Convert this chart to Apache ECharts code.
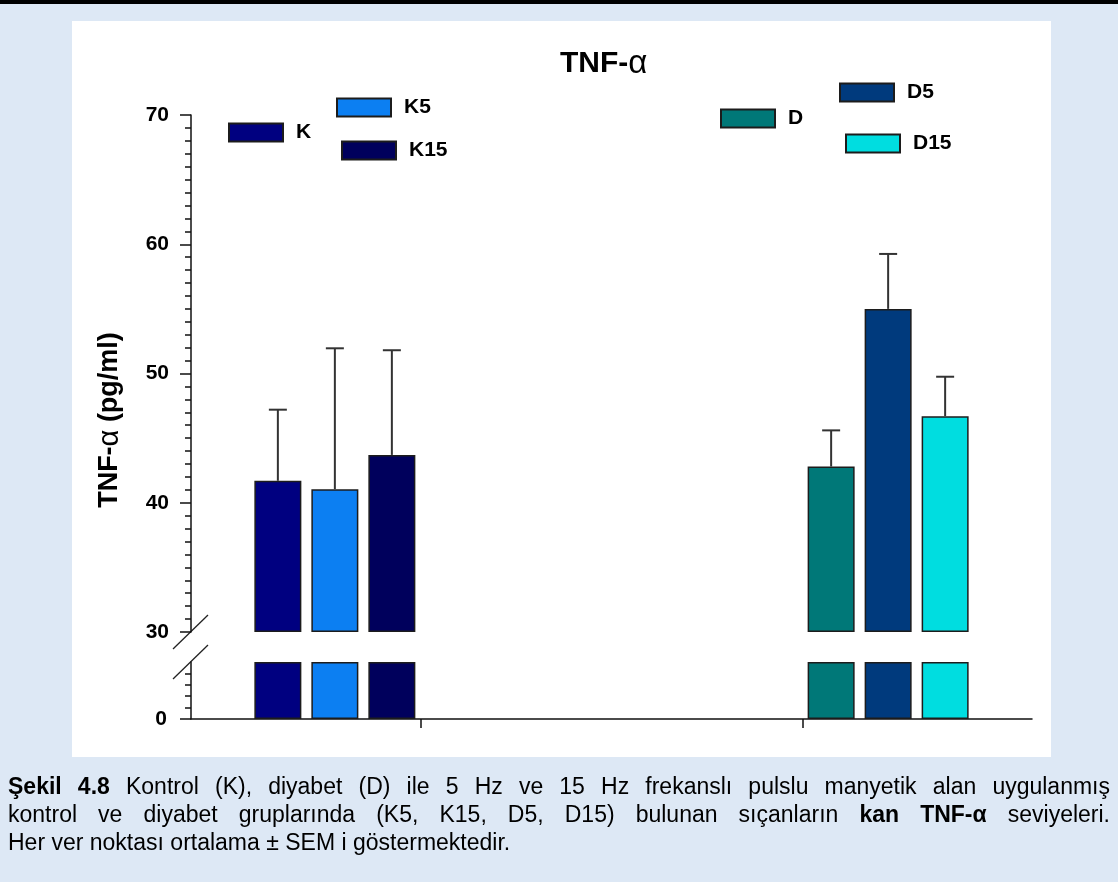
<!DOCTYPE html>
<html>
<head>
<meta charset="utf-8">
<title>TNF-α</title>
<script src="https://cdn.jsdelivr.net/npm/echarts@6/dist/echarts.min.js"></script>
<style>
  body { margin: 0; background: #dde8f5; }
  #topbar { position: absolute; left: 0; top: 0; width: 1118px; height: 4px; background: #000; }
  #panel { position: absolute; left: 72px; top: 21px; width: 979px; height: 736px; background: #fff; }
  #chart { position: absolute; left: 0; top: 0; width: 1118px; height: 882px; }
  #caption { position: absolute; left: 8px; top: 772px; width: 1102px;
    font: 23px Arial, "Liberation Sans", sans-serif; line-height: 28px; color: #000; }
  #caption .j { text-align: justify; text-align-last: justify; }
</style>
</head>
<body>
<div id="topbar"></div>
<div id="panel"></div>
<div id="chart"></div>
<div id="caption">
  <div class="j"><b>Şekil 4.8</b> Kontrol (K), diyabet (D) ile 5 Hz ve 15 Hz frekanslı pulslu manyetik alan uygulanmış</div>
  <div class="j">kontrol ve diyabet gruplarında (K5, K15, D5, D15) bulunan sıçanların <b>kan TNF-α</b> seviyeleri.</div>
  <div>Her ver noktası ortalama ± SEM i göstermektedir.</div>
</div>
<script>
// gruplar ve değerler
const categories = ['K', 'K5', 'K15', 'D', 'D5', 'D15'];
const means = [41.7, 41.05, 43.7, 42.8, 55.0, 46.7];
const sems = [5.5, 10.9, 8.1, 2.8, 4.25, 3.05];
const groupPos = [1, 1, 1, 2, 2, 2]; // K grubu = 1, D grubu = 2
const upperTicks = [30, 40, 50, 60, 70];
const lowerTicks = [0, 5];
const xTicks = [1, 2];
const colors = ['#000080', '#0c7ff2', '#00005c', '#007878', '#003a7d', '#00dde0'];

// yerleşim
const BAR_W = 47, GAP = 10;
const legendPos = [[228, 122], [336, 97], [341, 140], [720, 108], [839, 82], [845, 133]];
const FONT = 'Arial, "Liberation Sans", sans-serif';
const axisColor = '#111';

let myChart = echarts.init(document.getElementById('chart'));

let series = [];
categories.forEach((name, i) => {
  const itemStyle = { color: colors[i], borderColor: '#1c1c1c', borderWidth: 1.5 };
  series.push({
    name, type: 'bar', xAxisIndex: 0, yAxisIndex: 0,
    barWidth: BAR_W, barGap: (GAP / BAR_W * 100) + '%',
    itemStyle, data: [[groupPos[i], means[i]]]
  });
  series.push({
    name, type: 'bar', xAxisIndex: 1, yAxisIndex: 1,
    barWidth: BAR_W, barGap: (GAP / BAR_W * 100) + '%',
    itemStyle, data: [[groupPos[i], Math.min(means[i], lowerTicks[1])]]
  });
});

// hata çubukları (ortalama + SEM)
series.push({
  type: 'custom', xAxisIndex: 0, yAxisIndex: 0, z: 5,
  data: categories.map((c, i) => [groupPos[i], means[i], means[i] + sems[i], i]),
  renderItem(params, api) {
    const off = (api.value(3) - (categories.length - 1) / 2) * (BAR_W + GAP);
    const base = api.coord([api.value(0), api.value(1)]);
    const top = api.coord([api.value(0), api.value(2)]);
    const x = base[0] + off;
    const style = { stroke: '#333', lineWidth: 2 };
    return {
      type: 'group',
      children: [
        { type: 'line', shape: { x1: x, y1: base[1], x2: x, y2: top[1] }, style },
        { type: 'line', shape: { x1: x - 9, y1: top[1], x2: x + 9, y2: top[1] }, style }
      ]
    };
  }
});

let legends = categories.map((name, i) => ({
  data: [name],
  left: legendPos[i][0], top: legendPos[i][1], padding: 0,
  icon: 'rect', itemWidth: 54, itemHeight: 18, selectedMode: false,
  textStyle: { fontFamily: FONT, fontSize: 21, fontWeight: 'bold', color: '#000', padding: [0, 0, 0, 8] }
}));

const xCommon = {
  type: 'value', min: 0.4, max: 2.6,
  splitLine: { show: false }, axisLabel: { show: false }
};

let option = {
  animation: false,
  title: {
    text: '{b|TNF-}{a|α}',
    left: 555, top: 42,
    textStyle: {
      rich: {
        b: { fontFamily: FONT, fontSize: 30, fontWeight: 'bold', color: '#000' },
        a: { fontFamily: FONT, fontSize: 33, fontWeight: 'normal', color: '#000' }
      }
    }
  },
  legend: legends,
  grid: [
    { left: 191, top: 115, width: 841, height: 517 },
    { left: 191, top: 662, width: 841, height: 57 }
  ],
  xAxis: [
    Object.assign({ gridIndex: 0, show: false }, xCommon),
    Object.assign({
      gridIndex: 1,
      axisLine: { onZero: false, lineStyle: { color: axisColor, width: 1.5 } },
      axisTick: { show: true, customValues: xTicks, length: 9, lineStyle: { color: axisColor, width: 1.5 } }
    }, xCommon)
  ],
  yAxis: [
    {
      gridIndex: 0, type: 'value',
      min: upperTicks[0], max: upperTicks[upperTicks.length - 1], interval: 10,
      startValue: upperTicks[0],
      splitLine: { show: false },
      axisLine: { show: true, lineStyle: { color: axisColor, width: 1.5 } },
      axisTick: { show: true, length: 11, lineStyle: { color: axisColor, width: 1.5 } },
      minorTick: { show: true, splitNumber: 10, length: 6, lineStyle: { color: axisColor, width: 1.5 } },
      axisLabel: { fontFamily: FONT, fontSize: 21, fontWeight: 'bold', color: '#000', margin: 22 }
    },
    {
      gridIndex: 1, type: 'value',
      min: lowerTicks[0], max: lowerTicks[1], interval: 5,
      splitLine: { show: false },
      axisLine: { show: true, lineStyle: { color: axisColor, width: 1.5 } },
      axisTick: { show: true, customValues: [lowerTicks[0]], length: 11, lineStyle: { color: axisColor, width: 1.5 } },
      minorTick: { show: true, splitNumber: 5, length: 6, lineStyle: { color: axisColor, width: 1.5 } },
      axisLabel: { customValues: [lowerTicks[0]], fontFamily: FONT, fontSize: 21, fontWeight: 'bold', color: '#000', margin: 24 }
    }
  ],
  series
};
myChart.setOption(option);

// eksen kırılma işaretleri ve eksen adı
const a = myChart.convertToPixel({ gridIndex: 0 }, [0.4, upperTicks[0]]);
const b = myChart.convertToPixel({ gridIndex: 1 }, [0.4, lowerTicks[1]]);
const breakStyle = { stroke: '#222', lineWidth: 1.3 };
myChart.setOption({
  graphic: [
    { type: 'line', shape: { x1: a[0] - 18, y1: a[1] + 17, x2: a[0] + 17, y2: a[1] - 17 }, style: breakStyle },
    { type: 'line', shape: { x1: b[0] - 18, y1: b[1] + 17, x2: b[0] + 17, y2: b[1] - 17 }, style: breakStyle },
    {
      type: 'text', x: 110, y: 420, rotation: Math.PI / 2,
      style: {
        text: '{b|TNF-}{a|α}{b| (pg/ml)}',
        align: 'center', verticalAlign: 'middle',
        rich: {
          b: { fontFamily: FONT, fontSize: 27, fontWeight: 'bold', fill: '#000' },
          a: { fontFamily: FONT, fontSize: 29, fontWeight: 'normal', fill: '#000' }
        }
      }
    }
  ]
});
</script>
</body>
</html>
